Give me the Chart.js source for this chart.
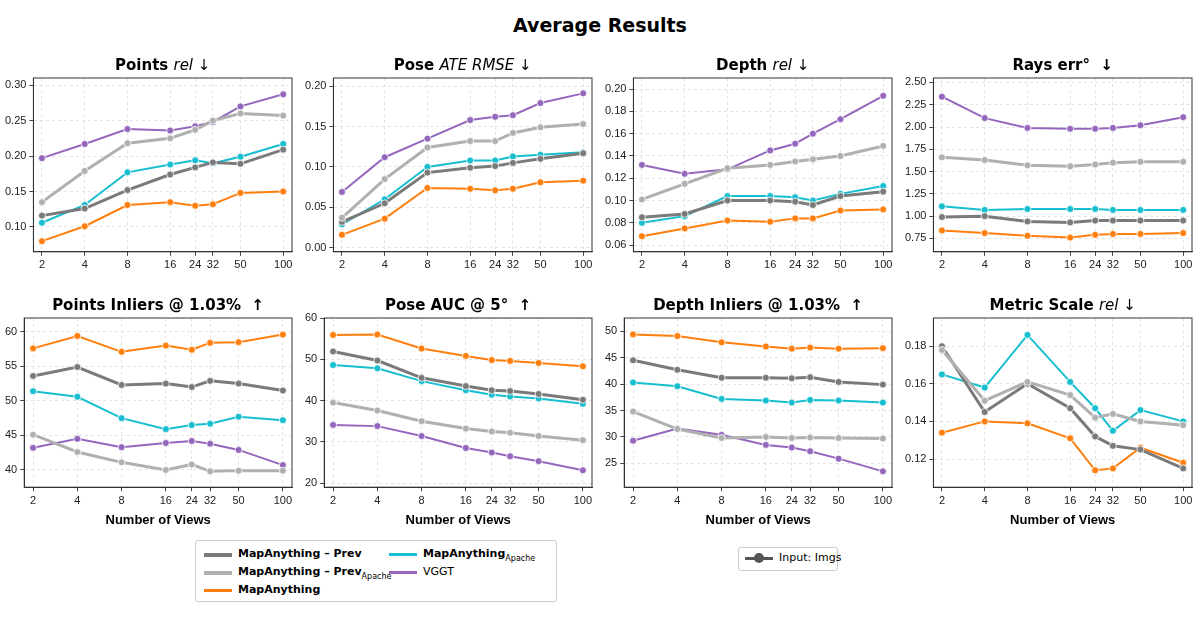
<!DOCTYPE html>
<html>
<head>
<meta charset="utf-8">
<script src="https://cdn.jsdelivr.net/npm/chart.js@4"></script>
<style>
  body { margin:0; background:#fff; font-family:"DejaVu Sans", sans-serif; }
  #wrap { position:relative; width:1200px; height:620px; }
  h1 { position:absolute; top:14px; left:0; width:1200px; text-align:center; margin:0; font-size:19px; font-weight:bold; }
  .pane { position:absolute; width:300px; }
  .legend { position:absolute; border:1px solid #ccc; border-radius:3px; font-size:11px; font-weight:bold; background:#fff; }
  .item { position:absolute; display:flex; align-items:flex-start; white-space:nowrap; line-height:14px; }
  .sw { width:28px; height:3px; margin-right:6px; margin-top:6px; position:relative; }
  .dot { position:absolute; left:9px; top:-4px; width:10px; height:10px; border-radius:50%; }
  .sb { font-size:8px; font-weight:normal; position:relative; top:5px; }
</style>
</head>
<body>
<div id="wrap">
  <h1>Average Results</h1>
  <div class="legend" style="left:195px; top:540px; width:360px; height:60px;">
    <div class="item" style="left:8px; top:6px;"><div class="sw" style="background:#7a7a7a;height:4px"></div>MapAnything – Prev</div>
    <div class="item" style="left:8px; top:24px;"><div class="sw" style="background:#b0b0b0;height:4px"></div>MapAnything – Prev<span class="sb">Apache</span></div>
    <div class="item" style="left:8px; top:42px;"><div class="sw" style="background:#ff7f0e"></div>MapAnything</div>
    <div class="item" style="left:193px; top:6px;"><div class="sw" style="background:#17becf"></div>MapAnything<span class="sb">Apache</span></div>
    <div class="item" style="left:193px; top:24px; font-weight:normal;"><div class="sw" style="background:#9467bd"></div>VGGT</div>
  </div>
  <div class="legend" style="left:738px; top:547px; width:98px; height:22px; font-weight:normal;">
    <div class="item" style="left:6px; top:3px;"><div class="sw" style="background:#555"><div class="dot" style="background:#555"></div></div>Input: Imgs</div>
  </div>
</div>
<script>
const views = [2, 4, 8, 16, 24, 32, 50, 100];
const styles = {
  prev:   { label: 'MapAnything – Prev',        color: '#7a7a7a', width: 3 },
  prevA:  { label: 'MapAnything – Prev Apache', color: '#b0b0b0', width: 3 },
  ma:     { label: 'MapAnything',               color: '#ff7f0e', width: 2 },
  apache: { label: 'MapAnything Apache',        color: '#17becf', width: 2 },
  vggt:   { label: 'VGGT',                      color: '#9467bd', width: 2 }
};

const panels = [
  { title: [['Points ', 'bold'], ['rel', 'italic'], [' ↓', 'normal']], min: 0.065, max: 0.31, step: 0.05, dec: 2,
    data: { prevA: [.135,.179,.218,.225,.237,.250,.260,.257], vggt: [.197,.217,.238,.236,.242,.248,.270,.287],
            prev: [.116,.126,.152,.174,.184,.191,.189,.209], apache: [.106,.131,.177,.188,.194,.190,.199,.217],
            ma: [.080,.101,.131,.135,.130,.132,.148,.150] } },
  { title: [['Pose ', 'bold'], ['ATE RMSE', 'italic'], [' ↓', 'normal']], min: -0.005, max: 0.21, step: 0.05, dec: 2,
    data: { prevA: [.037,.085,.124,.132,.132,.142,.149,.153], vggt: [.069,.112,.135,.158,.162,.164,.179,.191],
            prev: [.032,.055,.093,.099,.101,.105,.110,.117], apache: [.029,.060,.100,.108,.108,.113,.115,.118],
            ma: [.016,.036,.074,.073,.071,.073,.081,.083] } },
  { title: [['Depth ', 'bold'], ['rel', 'italic'], [' ↓', 'normal']], min: 0.054, max: 0.21, step: 0.02, dec: 2,
    data: { prevA: [.101,.115,.129,.132,.135,.137,.140,.149], vggt: [.132,.124,.128,.145,.151,.160,.173,.194],
            prev: [.085,.088,.100,.100,.099,.096,.104,.108], apache: [.080,.086,.104,.104,.103,.100,.106,.113],
            ma: [.068,.075,.082,.081,.084,.084,.091,.092] } },
  { title: [['Rays err°  ↓', 'bold']], min: 0.6, max: 2.55, step: 0.25, dec: 2,
    data: { prevA: [1.66,1.63,1.57,1.56,1.58,1.60,1.61,1.61], vggt: [2.34,2.10,1.99,1.98,1.98,1.99,2.02,2.11],
            prev: [.99,1.0,.94,.93,.95,.95,.95,.95], apache: [1.11,1.07,1.08,1.08,1.08,1.07,1.07,1.07],
            ma: [.84,.81,.78,.76,.79,.80,.80,.81] } },
  { title: [['Points Inliers @ 1.03%  ↑', 'bold']], min: 37.5, max: 62, step: 5, dec: 0, xlabel: true,
    data: { prevA: [45.1,42.6,41.1,40.0,40.8,39.8,39.9,39.9], vggt: [43.2,44.5,43.3,43.9,44.2,43.8,42.9,40.7],
            prev: [53.6,54.9,52.3,52.5,52.0,52.9,52.5,51.5], apache: [51.4,50.6,47.5,45.9,46.5,46.7,47.7,47.2],
            ma: [57.6,59.4,57.1,58.0,57.4,58.4,58.5,59.6] } },
  { title: [['Pose AUC @ 5°  ↑', 'bold']], min: 19, max: 60, step: 10, dec: 0, xlabel: true,
    data: { prevA: [39.5,37.6,35.0,33.2,32.5,32.2,31.4,30.4], vggt: [34.1,33.8,31.4,28.5,27.4,26.5,25.3,23.1],
            prev: [51.9,49.7,45.5,43.5,42.5,42.3,41.6,40.2], apache: [48.6,47.8,44.7,42.5,41.4,41.0,40.5,39.2],
            ma: [55.9,56.0,52.6,50.8,49.8,49.6,49.1,48.3] } },
  { title: [['Depth Inliers @ 1.03%  ↑', 'bold']], min: 20.5, max: 52.5, step: 5, dec: 0, xlabel: true,
    data: { prevA: [34.8,31.5,29.8,30.0,29.8,29.9,29.8,29.7], vggt: [29.3,31.6,30.4,28.5,28.0,27.3,25.9,23.5],
            prev: [44.5,42.7,41.2,41.2,41.1,41.3,40.4,39.9], apache: [40.3,39.6,37.2,36.9,36.5,37.0,36.9,36.5],
            ma: [49.4,49.1,47.9,47.1,46.7,46.9,46.7,46.8] } },
  { title: [['Metric Scale ', 'bold'], ['rel', 'italic'], [' ↓', 'normal']], min: 0.105, max: 0.195, step: 0.02, dec: 2, xlabel: true,
    data: { prevA: [.178,.151,.161,.154,.142,.144,.140,.138], prev: [.180,.145,.160,.147,.132,.127,.125,.115],
            apache: [.165,.158,.186,.161,.147,.135,.146,.140], ma: [.134,.140,.139,.131,.114,.115,.126,.118] } }
];

// draws mixed-style titles (bold / italic) and the box frame
const mixedTitle = {
  id: 'mixedTitle',
  afterDraw(chart, args, opts) {
    const ctx = chart.ctx, parts = opts.parts;
    const a = chart.chartArea;
    ctx.save();
    ctx.strokeStyle = '#333';
    ctx.lineWidth = 1;
    ctx.strokeRect(a.left, a.top, a.right - a.left, a.bottom - a.top);
    let total = 0;
    parts.forEach(p => { ctx.font = (p[1] === 'normal' ? '' : p[1] + ' ') + '15px "DejaVu Sans"'; total += ctx.measureText(p[0]).width; });
    let x = (a.left + a.right) / 2 - total / 2;
    ctx.fillStyle = '#000';
    ctx.textBaseline = 'alphabetic';
    parts.forEach(p => {
      ctx.font = (p[1] === 'normal' ? '' : p[1] + ' ') + '15px "DejaVu Sans"';
      ctx.fillText(p[0], x, 20);
      x += ctx.measureText(p[0]).width;
    });
    ctx.restore();
  }
};

const wrap = document.getElementById('wrap');
panels.forEach((p, i) => {
  const row = Math.floor(i / 4), col = i % 4;
  const div = document.createElement('div');
  div.className = 'pane';
  div.style.left = (col * 300) + 'px';
  div.style.top = (row === 0 ? 50 : 290) + 'px';
  div.style.height = (row === 0 ? 225 : 240) + 'px';
  const cv = document.createElement('canvas');
  div.appendChild(cv);
  wrap.appendChild(div);

  const datasets = Object.keys(p.data).map(k => ({
    label: styles[k].label,
    data: p.data[k].map((v, j) => ({ x: Math.log2(views[j]), y: v })),
    borderColor: styles[k].color,
    backgroundColor: styles[k].color,
    borderWidth: styles[k].width,
    pointRadius: 3.5,
    pointBorderColor: '#fff',
    pointBorderWidth: 0.8,
    tension: 0
  }));

  new Chart(cv, {
    type: 'line',
    data: { datasets },
    plugins: [mixedTitle],
    options: {
      responsive: true,
      maintainAspectRatio: false,
      animation: false,
      layout: { padding: { top: 28, right: 8, left: 2 } },
      plugins: { legend: { display: false }, tooltip: { enabled: false }, mixedTitle: { parts: p.title } },
      scales: {
        x: {
          type: 'linear', min: 0.8, max: 6.85,
          afterBuildTicks: ax => { ax.ticks = views.map(v => ({ value: Math.log2(v) })); },
          ticks: { callback: v => String(Math.round(Math.pow(2, v))), color: '#222', font: { size: 11 }, maxRotation: 0, autoSkip: false },
          grid: { color: '#e4e4e4', tickColor: '#444', tickLength: 4 },
          border: { color: '#333', dash: [3, 3] },
          title: { display: !!p.xlabel, text: 'Number of Views', font: { size: 13, weight: 'bold' }, color: '#000', padding: 2 }
        },
        y: {
          min: p.min, max: p.max,
          afterBuildTicks: ax => {
            const t = [];
            for (let v = Math.ceil(p.min / p.step - 1e-9) * p.step; v <= p.max + 1e-9; v += p.step) t.push({ value: +v.toFixed(4) });
            ax.ticks = t;
          },
          ticks: { callback: v => v.toFixed(p.dec), color: '#222', font: { size: 11 } },
          grid: { color: '#e4e4e4', tickColor: '#444', tickLength: 4 },
          border: { color: '#333', dash: [3, 3] }
        }
      }
    }
  });
});
</script>
</body>
</html>
